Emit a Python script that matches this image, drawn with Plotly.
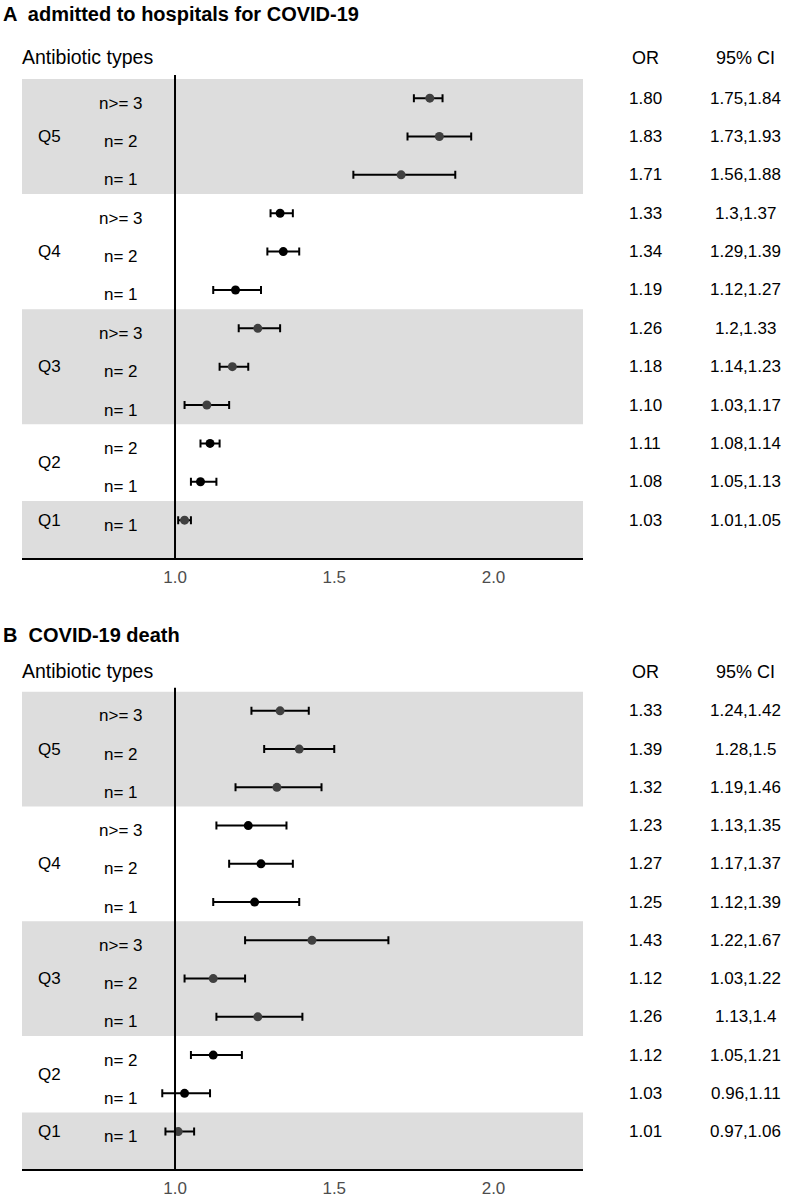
import plotly.graph_objects as go

# ---------------- data ----------------
groups = ["Q5", "Q5", "Q5", "Q4", "Q4", "Q4", "Q3", "Q3", "Q3", "Q2", "Q2", "Q1"]
n_labels = ["n>= 3", "n= 2", "n= 1", "n>= 3", "n= 2", "n= 1",
            "n>= 3", "n= 2", "n= 1", "n= 2", "n= 1", "n= 1"]

or_a = [1.80, 1.83, 1.71, 1.33, 1.34, 1.19, 1.26, 1.18, 1.10, 1.11, 1.08, 1.03]
lo_a = [1.75, 1.73, 1.56, 1.3, 1.29, 1.12, 1.2, 1.14, 1.03, 1.08, 1.05, 1.01]
hi_a = [1.84, 1.93, 1.88, 1.37, 1.39, 1.27, 1.33, 1.23, 1.17, 1.14, 1.13, 1.05]

or_b = [1.33, 1.39, 1.32, 1.23, 1.27, 1.25, 1.43, 1.12, 1.26, 1.12, 1.03, 1.01]
lo_b = [1.24, 1.28, 1.19, 1.13, 1.17, 1.12, 1.22, 1.03, 1.13, 1.05, 0.96, 0.97]
hi_b = [1.42, 1.5, 1.46, 1.35, 1.37, 1.39, 1.67, 1.22, 1.4, 1.21, 1.11, 1.06]

tick_vals = [1.0, 1.5, 2.0]
tick_text = ["1.0", "1.5", "2.0"]

titles = ["<b>A  admitted to hospitals for COVID-19</b>", "<b>B  COVID-19 death</b>"]

# ---------------- layout helpers ----------------
W, H = 787, 1198
FONT = "Liberation Sans, Arial, Helvetica, sans-serif"
BAND = "#dddddd"
nrows = len(groups)
ypos = list(range(nrows, 0, -1))  # top row = 12, bottom row = 1
banded = {"Q5", "Q3", "Q1"}
YMIN, YMAX = 0.01, 12.6
XMIN, XMAX = 0.5196, 2.281


def px_x(p):
    return p / W


def px_y(p):
    return 1 - p / H


fig = go.Figure()

panels = [
    dict(orv=or_a, lo=lo_a, hi=hi_a, row1=521.0, top=98.3, title_y=14, head_y=57),
    dict(orv=or_b, lo=lo_b, hi=hi_b, row1=1133.5, top=712.0, title_y=636, head_y=672),
]

annotations = []
shapes = []

for i, p in enumerate(panels):
    sfx = "" if i == 0 else str(i + 1)
    xa, ya = "x" + sfx, "y" + sfx
    spacing = (p["row1"] - p["top"]) / (nrows - 1)
    bottom_px = p["row1"] + (1 - YMIN) * spacing
    top_px = p["top"] - (YMAX - nrows) * spacing

    colors = ["#404040" if g in banded else "#000000" for g in groups]

    fig.add_trace(go.Scatter(
        x=p["orv"], y=ypos, mode="markers",
        marker=dict(size=9, color=colors),
        error_x=dict(type="data", symmetric=False,
                     array=[h - o for h, o in zip(p["hi"], p["orv"])],
                     arrayminus=[o - l for o, l in zip(p["orv"], p["lo"])],
                     color="#000000", thickness=2, width=4),
        xaxis=xa, yaxis=ya, showlegend=False, hoverinfo="skip",
    ))

    axis_x = dict(domain=[px_x(22), px_x(583)], range=[XMIN, XMAX],
                  tickvals=tick_vals, ticktext=tick_text, showline=True,
                  linecolor="black", linewidth=2, ticks="", showgrid=False,
                  zeroline=False, tickfont=dict(family=FONT, size=17, color="#4d4d4d"),
                  ticklabelstandoff=2,
                  anchor=ya, fixedrange=True)
    axis_y = dict(domain=[px_y(bottom_px), px_y(top_px)], range=[YMIN, YMAX],
                  visible=False, anchor=xa, fixedrange=True)
    fig.update_layout(**{"xaxis" + sfx: axis_x, "yaxis" + sfx: axis_y})

    # bands
    blocks = {}
    for g, y in zip(groups, ypos):
        blocks.setdefault(g, []).append(y)
    for g, ys in blocks.items():
        if g in banded:
            y0 = min(ys) - 0.5 if g != "Q1" else YMIN
            shapes.append(dict(type="rect", xref=xa + " domain", yref=ya,
                               x0=0, x1=1, y0=y0, y1=max(ys) + 0.5,
                               fillcolor=BAND, line=dict(width=0), layer="below"))
        annotations.append(dict(xref="paper", yref=ya, x=px_x(36),
                                y=sum(ys) / len(ys), text=g, showarrow=False,
                                xanchor="left", yanchor="middle",
                                font=dict(family=FONT, size=17, color="black")))
    # reference line
    shapes.append(dict(type="line", xref=xa, yref=ya + " domain", x0=1, x1=1,
                       y0=0, y1=1, line=dict(color="black", width=2)))

    for lab, y, o, l, h in zip(n_labels, ypos, p["orv"], p["lo"], p["hi"]):
        annotations.append(dict(xref="paper", yref=ya, x=px_x(121), y=y, yshift=-5,
                                text=lab, showarrow=False, xanchor="center",
                                yanchor="middle",
                                font=dict(family=FONT, size=17, color="black")))
        annotations.append(dict(xref="paper", yref=ya, x=px_x(645), y=y,
                                text=f"{o:.2f}", showarrow=False, xanchor="center",
                                yanchor="middle",
                                font=dict(family=FONT, size=17, color="black")))
        annotations.append(dict(xref="paper", yref=ya, x=px_x(745.5), y=y,
                                text=f"{l},{h}", showarrow=False, xanchor="center",
                                yanchor="middle",
                                font=dict(family=FONT, size=17, color="black")))

    # headers
    annotations.append(dict(xref="paper", yref="paper", x=px_x(1), y=px_y(p["title_y"]),
                            text=titles[i], showarrow=False, xanchor="left",
                            yanchor="middle", font=dict(family=FONT, size=20, color="black")))
    annotations.append(dict(xref="paper", yref="paper", x=px_x(20), y=px_y(p["head_y"]),
                            text="Antibiotic types", showarrow=False, xanchor="left",
                            yanchor="middle", font=dict(family=FONT, size=19.5, color="black")))
    annotations.append(dict(xref="paper", yref="paper", x=px_x(645), y=px_y(p["head_y"] + 1),
                            text="OR", showarrow=False, xanchor="center",
                            yanchor="middle", font=dict(family=FONT, size=18, color="black")))
    annotations.append(dict(xref="paper", yref="paper", x=px_x(745.5), y=px_y(p["head_y"] + 1),
                            text="95% CI", showarrow=False, xanchor="center",
                            yanchor="middle", font=dict(family=FONT, size=18, color="black")))

fig.update_layout(width=W, height=H, margin=dict(l=0, r=0, t=0, b=0),
                  paper_bgcolor="white", plot_bgcolor="white",
                  shapes=shapes, annotations=annotations,
                  font=dict(family=FONT))

fig.write_html("out.html", config={"displayModeBar": False, "staticPlot": True},
               post_script="document.body.style.margin='0';document.body.style.overflow='hidden';")
